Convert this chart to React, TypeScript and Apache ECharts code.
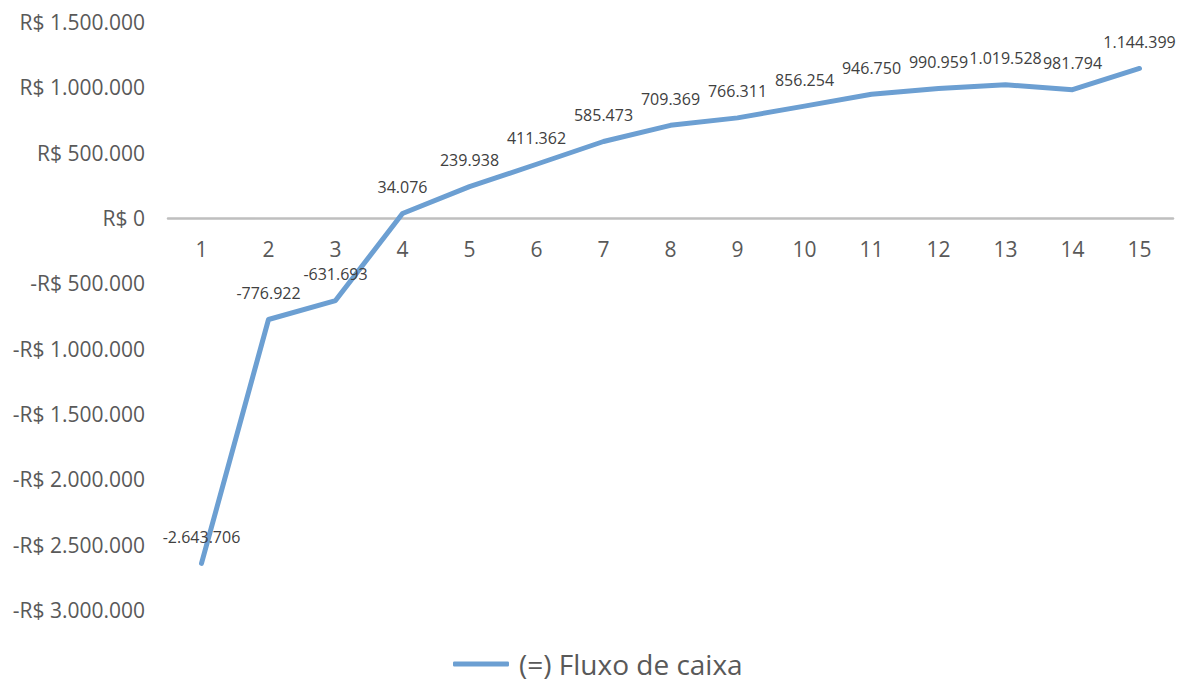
import React, { useEffect, useRef } from "react";
import * as echarts from "echarts";

const categories = ["1", "2", "3", "4", "5", "6", "7", "8", "9", "10", "11", "12", "13", "14", "15"];
const fluxoDeCaixa = [
  -2643706, -776922, -631693, 34076, 239938, 411362, 585473, 709369, 766311, 856254, 946750, 990959,
  1019528, 981794, 1144399,
];
const seriesName = "(=) Fluxo de caixa";
const yMin = -3000000;
const yMax = 1500000;
const yStep = 500000;

const fmt = (v: number) => {
  const s = Math.abs(Math.round(v))
    .toString()
    .replace(/\B(?=(\d{3})+(?!\d))/g, ".");
  return (v < 0 ? "-" : "") + s;
};
const fmtMoney = (v: number) => {
  const s = Math.abs(Math.round(v))
    .toString()
    .replace(/\B(?=(\d{3})+(?!\d))/g, ".");
  return (v < 0 ? "-" : "") + "R$ " + s;
};

const FONT = "'Open Sans', sans-serif";
const LINE_COLOR = "#6C9FD2";
const GRID_TOP = 22;
const GRID_BOTTOM = 72;
const HEIGHT = 682;

export default function App() {
  const ref = useRef<HTMLDivElement>(null);
  useEffect(() => {
    document.body.style.margin = "0";
    if (!ref.current) return;
    const chart = echarts.init(ref.current, undefined, { renderer: "svg" });
    const plotH = HEIGHT - GRID_TOP - GRID_BOTTOM;
    const zeroFromBottom = (plotH * (0 - yMin)) / (yMax - yMin);
    chart.setOption({
      animation: false,
      backgroundColor: "#ffffff",
      textStyle: { fontFamily: FONT },
      grid: { left: 168, right: 12, top: GRID_TOP, bottom: GRID_BOTTOM, containLabel: false },
      legend: {
        top: 650,
        left: 448,
        padding: [0, 5, 0, 5],
        data: [{ name: seriesName, icon: "roundRect" }],
        itemWidth: 56,
        itemHeight: 5,
        itemGap: 10,
        textStyle: {
          fontSize: 28,
          lineHeight: 26,
          color: "#595959",
          fontFamily: FONT,
          padding: [0, 0, 0, 5],
        },
      },
      xAxis: {
        type: "category",
        data: categories,
        boundaryGap: true,
        offset: -zeroFromBottom,
        axisLine: { onZero: false, lineStyle: { color: "#BFBFBF", width: 2.5 } },
        axisTick: { show: false },
        axisLabel: { fontSize: 21, color: "#595959", margin: 20, fontFamily: FONT },
        splitLine: { show: false },
      },
      yAxis: {
        type: "value",
        min: yMin,
        max: yMax,
        interval: yStep,
        axisLine: { show: false },
        axisTick: { show: false },
        splitLine: { show: false },
        axisLabel: {
          fontSize: 21,
          color: "#595959",
          margin: 23,
          fontFamily: FONT,
          formatter: (v: number) => fmtMoney(v),
        },
      },
      series: [
        {
          name: seriesName,
          type: "line",
          data: fluxoDeCaixa,
          symbol: "circle",
          symbolSize: 1,
          showSymbol: true,
          itemStyle: { color: LINE_COLOR },
          lineStyle: { color: LINE_COLOR, width: 5, cap: "round", join: "round" },
          label: {
            show: true,
            position: "top",
            distance: 18,
            fontSize: 16,
            color: "#404040",
            fontFamily: FONT,
            formatter: (p: any) => fmt(p.value),
          },
          labelLayout: { hideOverlap: false },
        },
      ],
    });
    return () => chart.dispose();
  }, []);
  return <div ref={ref} style={{ width: 1185, height: 682 }} />;
}
